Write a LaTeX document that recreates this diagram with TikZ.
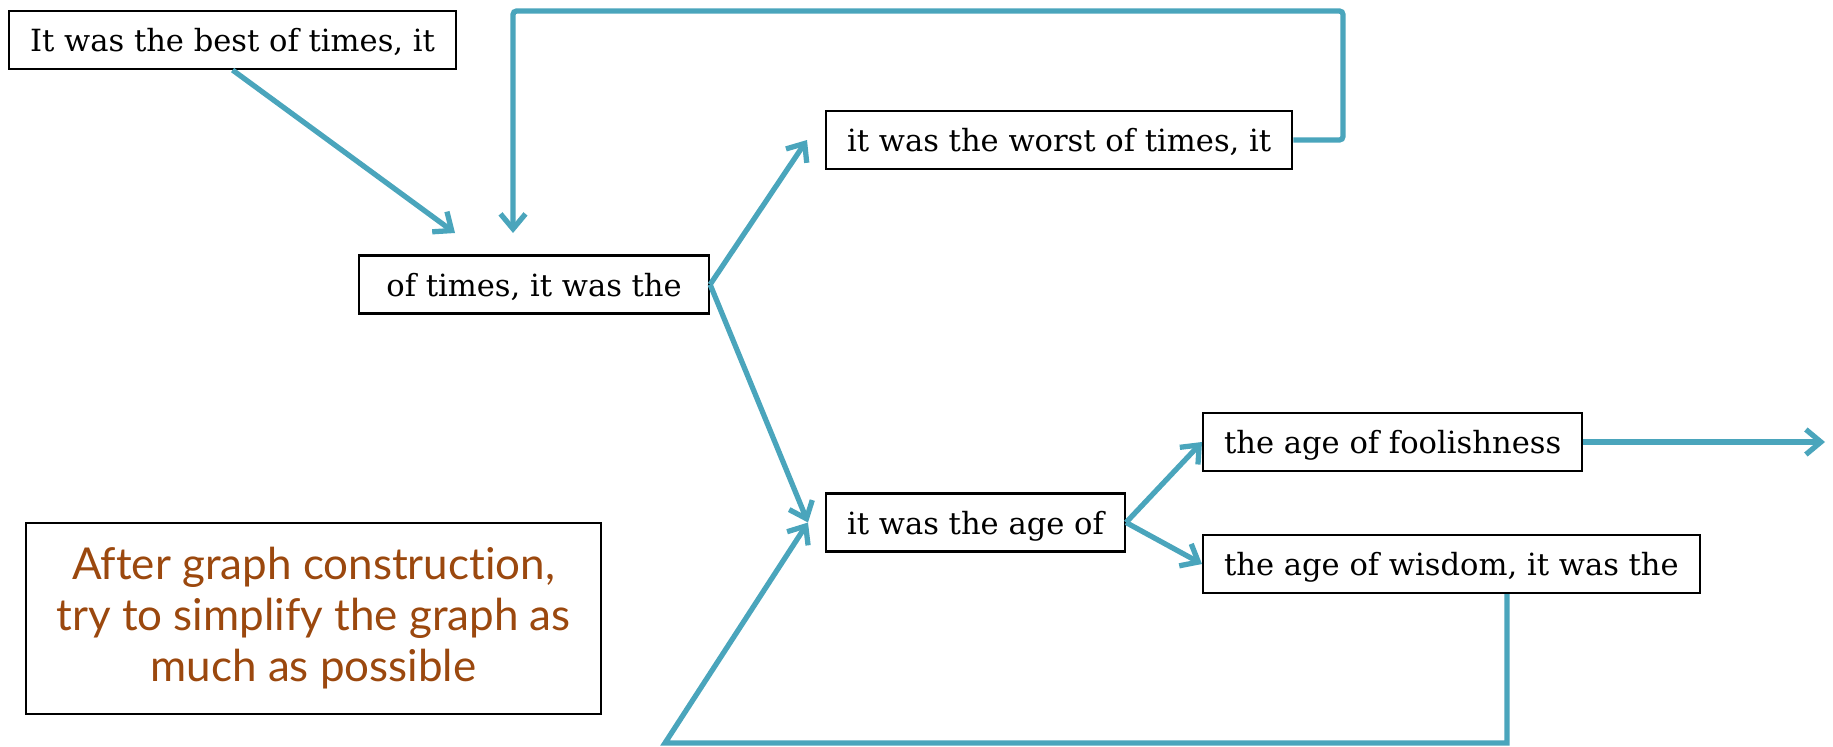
\documentclass[tikz,border=0pt]{standalone}
\usepackage{fontspec}
\setmainfont{DejaVu Serif}
\newfontfamily\notefont[Ligatures=NoCommon]{Lato}
\usetikzlibrary{arrows.meta}
\definecolor{linkblue}{RGB}{74,165,188}
\definecolor{notebrown}{RGB}{155,72,14}

\begin{document}
\begin{tikzpicture}[word/.style = {draw=black, line width=1.2pt, anchor=west, font=\fontsize{17.4}{20}\selectfont, inner xsep=12pt, inner ysep=6pt, text height=17.3pt, text depth=3.7pt},
        note/.style = {draw=black, line width=1.2pt, minimum width=11.5cm, minimum height=3.82cm, align=center, text=notebrown, font=\notefont\fontsize{25}{29}\selectfont},
        link/.style = {draw=linkblue, line width=3pt, -{Straight Barb[length=0.3cm, width=0.5cm]}}]
        \useasboundingbox (0,0) rectangle (36.66,-14.92);
        \node[word] (1) at (0.16,-0.80){It was the best of times, it};
        \node[word, minimum width=7cm] (2) at (7.16,-5.69){of times, it was the};
        \node[word] (3) at (16.50,-2.80){it was the worst of times, it};
        \node[word] (4) at (16.50,-10.45){it was the age of};
        \node[word] (5) at (24.04,-8.84){the age of foolishness};
        \node[word] (6) at (24.04,-11.28){the age of wisdom, it was the};
        \node[note] (7) at (6.27,-12.37){After graph construction,\\try to simplify the graph as\\much as possible};
        \coordinate (a) at (9.10,-4.66);
        \coordinate (b) at (26.86,-0.22);
        \coordinate (c) at (10.26,-4.66);
        \coordinate (d) at (36.50,-8.84);
        \coordinate (e) at (13.30,-14.86);
        \draw[link] (1.south) -- (a);
        \draw[link, rounded corners=2pt] (3.east) -| (b) -| (c);
        \draw[link] (2.east) -- ([xshift=-0.36cm]3.west);
        \draw[link] (2.east) -- ([xshift=-0.34cm]4.west);
        \draw[link] (4.east) -- (5.west);
        \draw[link] (4.east) -- (6.west);
        \draw[link] (5.east) -- (d);
        \draw[link] ([xshift=6.1cm]6.south west) |- (e) -- ([xshift=-0.34cm]4.west);
    \end{tikzpicture}
\end{document}
